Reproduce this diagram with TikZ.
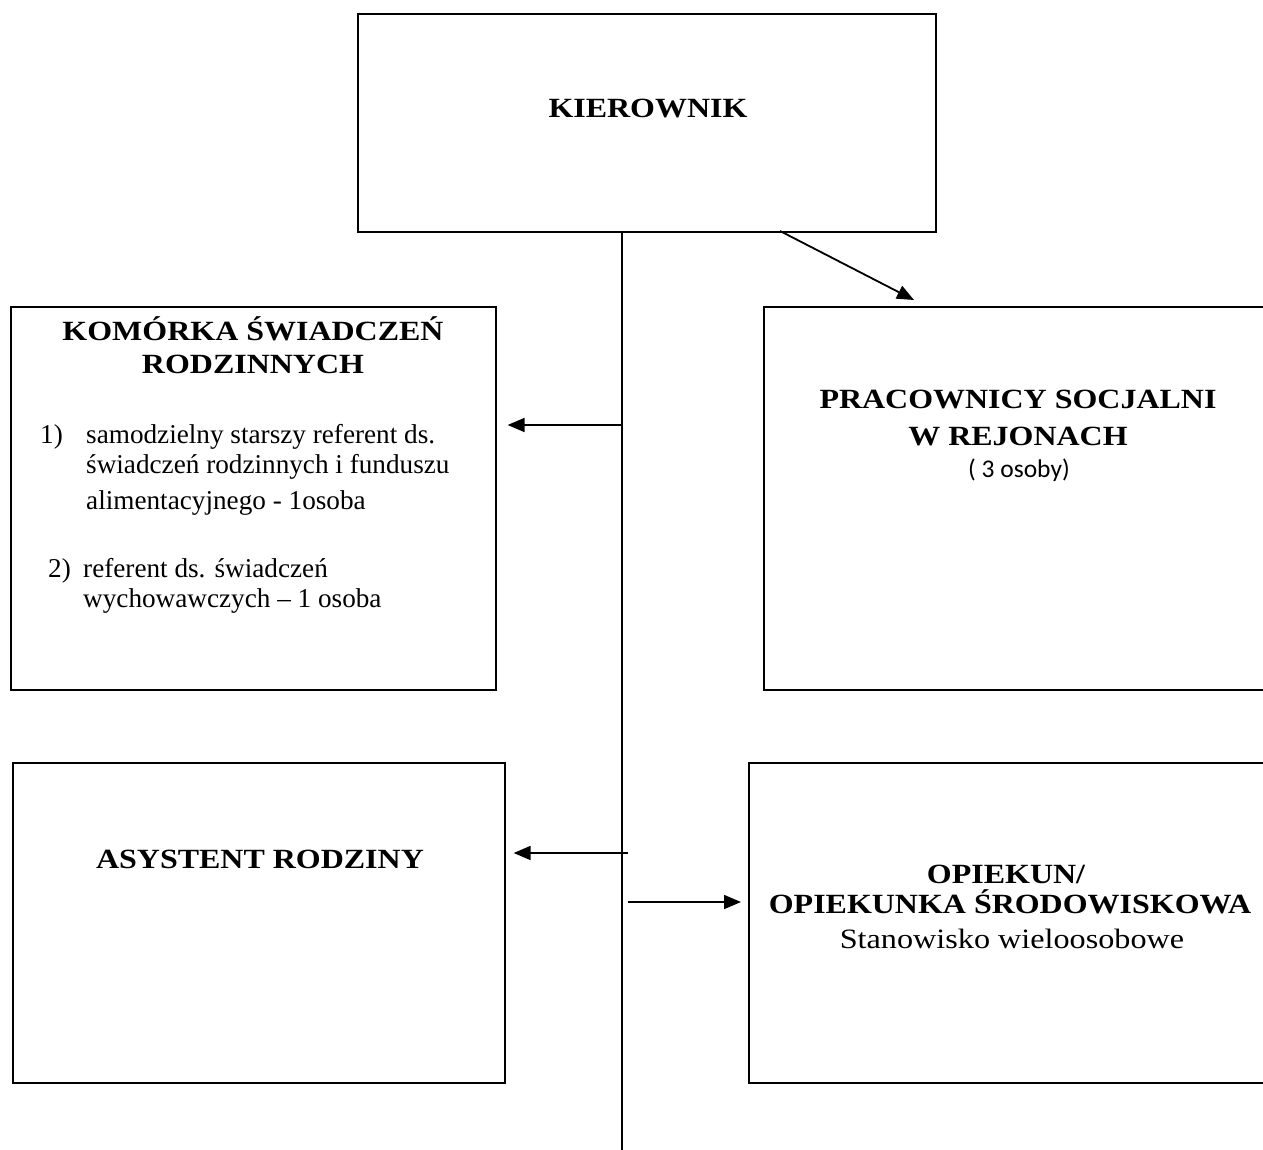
\documentclass[tikz,border=0pt]{standalone}
\usepackage{fontspec}
\setmainfont{Liberation Serif}
\newfontfamily\wideserif[FakeStretch=1.15]{Liberation Serif}
\newfontfamily\calibrifont{Carlito}
\usetikzlibrary{arrows.meta}
\begin{document}
\begin{tikzpicture}[x=1pt,y=-1pt,
  box/.style={draw, line width=1.6pt, inner sep=0pt, anchor=north west},
  title/.style={font=\wideserif\bfseries\fontsize{27.8}{32}\selectfont, anchor=base, inner sep=0pt},
  body/.style={font=\fontsize{27.2}{30}\selectfont, anchor=base west, inner sep=0pt},
  sub/.style={font=\wideserif\fontsize{28}{32}\selectfont, anchor=base, inner sep=0pt},
  small/.style={font=\calibrifont\fontsize{25.5}{30}\selectfont, anchor=base, inner sep=0pt},
  conn/.style={line width=2pt},
  arr/.style={-{Triangle[length=17pt,width=14pt]}, line width=1.8pt}]
\useasboundingbox (0,0) rectangle (1263,1150);
% boxes
\node[box, minimum width=578pt, minimum height=218pt] (kier) at (357,13) {};
\node[box, minimum width=485pt, minimum height=383pt] (kom) at (10,306) {};
\node[box, minimum width=503pt, minimum height=383pt] (prac) at (763,306) {};
\node[box, minimum width=492pt, minimum height=320pt] (asy) at (12,762) {};
\node[box, minimum width=518pt, minimum height=320pt] (opi) at (748,762) {};
% texts
\node[title] (t1) at (648,118) {KIEROWNIK};
\node[title] (t2) at (253,340) {KOMÓRKA ŚWIADCZEŃ};
\node[title] (t3) at (253,373) {RODZINNYCH};
\node[body] (l1n) at (40,443) {1)};
\node[body] (l1a) at (86,443) {samodzielny starszy referent ds.};
\node[body] (l1b) at (86,473) {świadczeń rodzinnych i funduszu};
\node[body] (l1c) at (86,509) {alimentacyjnego - 1osoba};
\node[body] (l2n) at (48,577) {2)};
\node[body] (l2a) at (83,577) {referent ds. świadczeń};
\node[body] (l2b) at (83,607) {wychowawczych – 1 osoba};
\node[title] (t4) at (1018,408) {PRACOWNICY SOCJALNI};
\node[title] (t5) at (1018,445) {W REJONACH};
\node[small] (t6) at (1019,477) {( 3 osoby)};
\node[title] (t7) at (260,868) {ASYSTENT RODZINY};
\node[title] (t8) at (1006,883) {OPIEKUN/};
\node[title] (t9) at (1010,913) {OPIEKUNKA ŚRODOWISKOWA};
\node[sub] (t10) at (1012,948) {Stanowisko wieloosobowe};
% connectors
\coordinate (bot) at (622,1150);
\draw[conn] (kier.south -| bot) -- (bot);
\coordinate (d0) at (780,231);
\coordinate (d1) at (914,300);
\draw[arr] (d0) -- (d1);
\coordinate (j1) at (622,425);
\draw[arr, shorten >=11pt] (j1) -- (j1 -| kom.east);
\coordinate (j2) at (628,853);
\draw[arr, shorten >=8pt] (j2) -- (j2 -| asy.east);
\coordinate (j3) at (628,902);
\draw[arr, shorten >=7pt] (j3) -- (j3 -| opi.west);
\end{tikzpicture}
\end{document}
